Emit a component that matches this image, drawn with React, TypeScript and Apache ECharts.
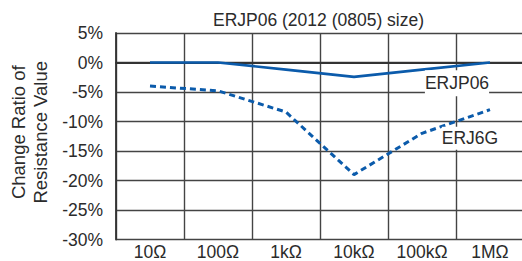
import React, { useEffect, useRef } from "react";
import * as echarts from "echarts";

const categories = ["10Ω", "100Ω", "1kΩ", "10kΩ", "100kΩ", "1MΩ"];
const erjp06 = [0, 0, -1.2, -2.45, -1.2, 0];
const erj6g = [-4.0, -4.8, -8.4, -19.0, -12.0, -8.0];
const yMin = -30;
const yMax = 5;
const yStep = 5;
const titleText = "ERJP06 (2012 (0805) size)";
const yName = "Change Ratio of\nResistance Value";

const FONT = "'Liberation Sans', Arial, sans-serif";
const TXT = "#2b2b2b";
const BLUE = "#0b5bab";

export default function App() {
  const ref = useRef<HTMLDivElement>(null);
  useEffect(() => {
    if (!ref.current) return;
    const chart = echarts.init(ref.current, undefined, { renderer: "svg" });
    chart.setOption({
      animation: false,
      backgroundColor: "#ffffff",
      title: {
        text: titleText,
        left: 318.5,
        top: 11,
        padding: 0,
        textAlign: "center",
        textStyle: { fontFamily: FONT, fontSize: 17.5, fontWeight: "normal", color: TXT },
      },
      grid: { left: 116, top: 33, width: 408, height: 206.5, containLabel: false, outerBoundsMode: "none" },
      xAxis: {
        type: "category",
        data: categories,
        boundaryGap: true,
        axisLine: { show: true, lineStyle: { color: "#333", width: 1.8 } },
        axisTick: { show: false },
        splitLine: { show: true, interval: 0, lineStyle: { color: "#444", width: 1.4 } },
        axisLabel: { interval: 0, margin: 3, fontFamily: FONT, fontSize: 17.5, color: TXT },
      },
      yAxis: {
        type: "value",
        min: yMin,
        max: yMax,
        interval: yStep,
        name: yName,
        nameLocation: "middle",
        nameRotate: 90,
        nameGap: 63,
        nameTextStyle: { fontFamily: FONT, fontSize: 18.5, color: TXT, lineHeight: 21.5, padding: [0, 0, 0, 8] },
        axisLine: { show: true, lineStyle: { color: "#333", width: 1.8 } },
        axisTick: { show: false },
        splitLine: { show: true, lineStyle: { color: "#444", width: 1.4 } },
        axisLabel: { formatter: "{value}%", margin: 13, fontFamily: FONT, fontSize: 17.5, color: TXT },
      },
      series: [
        {
          name: "ERJP06",
          type: "line",
          data: erjp06,
          showSymbol: false,
          symbol: "none",
          lineStyle: { color: BLUE, width: 2.7 },
          z: 3,
          markPoint: {
            symbol: "circle",
            symbolSize: 1,
            itemStyle: { color: "rgba(0,0,0,0)" },
            label: {
              show: true,
              position: "inside",
              formatter: "ERJP06",
              offset: [35, 0],
              fontFamily: FONT,
              fontSize: 17.5,
              color: TXT,
              backgroundColor: "#ffffff",
              padding: [5, 0, 3, 0],
            },
            data: [{ coord: ["100kΩ", -3.52] }],
          },
        },
        {
          name: "ERJ6G",
          type: "line",
          data: erj6g,
          showSymbol: false,
          symbol: "none",
          lineStyle: { color: BLUE, width: 3, type: [6, 4] },
          z: 3,
          markPoint: {
            symbol: "circle",
            symbolSize: 1,
            itemStyle: { color: "rgba(0,0,0,0)" },
            label: {
              show: true,
              position: "inside",
              formatter: "ERJ6G",
              offset: [-20, 0],
              fontFamily: FONT,
              fontSize: 17.5,
              color: TXT,
              backgroundColor: "#ffffff",
              padding: [4, 0, 1, 0],
            },
            data: [{ coord: ["1MΩ", -12.83] }],
          },
        },
      ],
    });
    return () => chart.dispose();
  }, []);
  return (
    <div
      ref={ref}
      style={{ position: "fixed", left: 0, top: 0, width: 522, height: 261, background: "#fff" }}
    />
  );
}
